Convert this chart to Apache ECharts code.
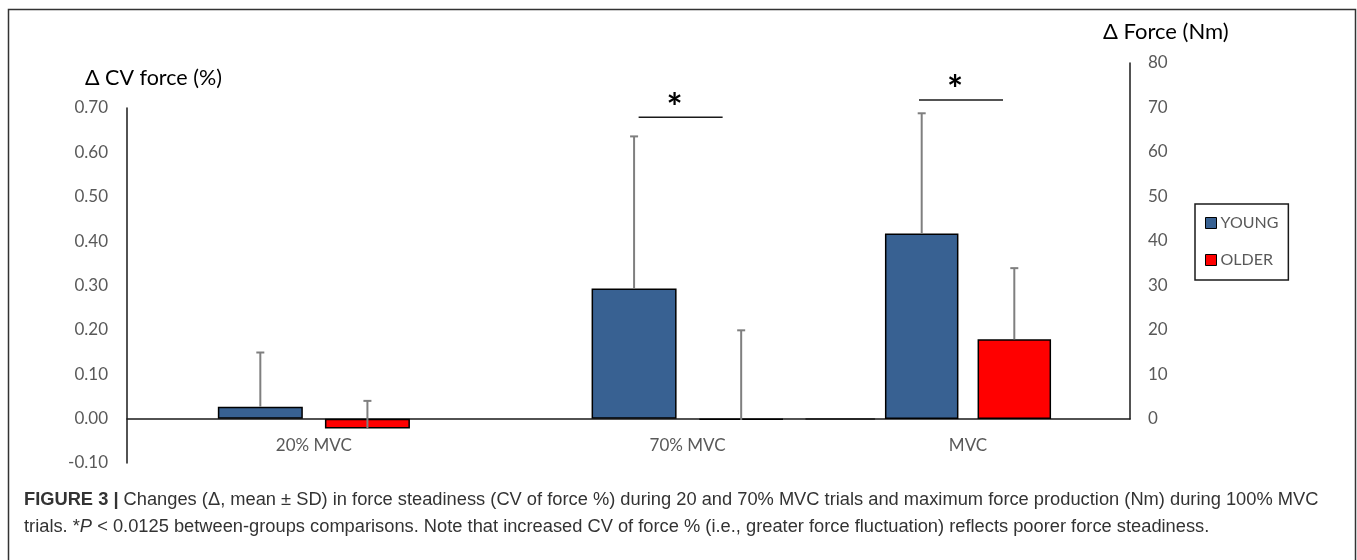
<!DOCTYPE html>
<html>
<head>
<meta charset="utf-8">
<script src="https://cdn.jsdelivr.net/npm/echarts@6/dist/echarts.min.js"></script>
<style>
html,body{margin:0;padding:0;background:#fff;}
#chart{width:1357px;height:560px;}
</style>
</head>
<body>
<div id="chart"></div>
<script>
// ---------- data ----------
const categoriesCV = ['20% MVC', '70% MVC'];        // left axis (Δ CV force %)
const youngCV      = [0.027, 0.293];
const youngCVTop   = [0.149, 0.636];                // mean + SD
const olderCV      = [-0.022, -0.003];
const olderCVTop   = [0.040, 0.199];

const categoriesForce = ['MVC'];                    // right axis (Δ Force Nm)
const youngForce      = [41.7];
const youngForceTop   = [68.7];
const olderForce      = [17.9];
const olderForceTop   = [33.9];

const leftAxisRange  = {min: -0.1, max: 0.7, interval: 0.1};
const rightAxisRange = {min: 0, max: 80, interval: 10};

const significance = [
  {grid: 0, cat: '70% MVC', value: 0.679},
  {grid: 1, cat: 'MVC', value: 71.7}
];

const seriesNames = ['YOUNG', 'OLDER'];
const leftTitle = 'Δ CV force (%)';
const rightTitle = 'Δ Force (Nm)';
const captionLine1 = '{b|FIGURE 3 |}{n| Changes (Δ, mean ± SD) in force steadiness (CV of force %) during 20 and 70% MVC trials and maximum force production (Nm) during 100% MVC}';
const captionLine2 = '{n|trials. *}{i|P}{n| < 0.0125 between-groups comparisons. Note that increased CV of force % (i.e., greater force fluctuation) reflects poorer force steadiness.}';

// ---------- style ----------
const BLUE = '#386192', RED = '#ff0000';
const LABEL = '#595959';
const FONT = 'Lato';
const bw1 = 85, bw2 = 73.5, gapRatio = 0.26;

function errRender(offsetPx) {
  return function (params, api) {
    const base = api.coord([api.value(0), api.value(1)]);
    const top = api.coord([api.value(0), api.value(2)]);
    const x = base[0] + offsetPx;
    const cap = 4;
    return {
      type: 'group',
      children: [
        {type: 'line', shape: {x1: x, y1: base[1], x2: x, y2: top[1]},
         style: {stroke: '#7f7f7f', lineWidth: 2}},
        {type: 'line', shape: {x1: x - cap, y1: top[1], x2: x + cap, y2: top[1]},
         style: {stroke: '#7f7f7f', lineWidth: 2}}
      ]
    };
  };
}

function errData(means, tops) {
  return means.map((m, i) => [i, m, tops[i]]);
}

const axisLineStyle = {show: true, onZero: false, lineStyle: {color: '#1a1a1a', width: 1.5}};
const labelStyle = {color: LABEL, fontFamily: FONT, fontSize: 17};

const chart = echarts.init(document.getElementById('chart'), null, {renderer: 'canvas'});

const off1 = bw1 * (1 + gapRatio) / 2;
const off2 = bw2 * (1 + gapRatio) / 2;

const option = {
  animation: false,
  backgroundColor: '#fff',
  grid: [
    {left: 127, right: 1357 - 874.5, top: 108, bottom: 560 - 463, containLabel: false},
    {left: 806, right: 1357 - 1130, top: 63, bottom: 560 - 419, containLabel: false}
  ],
  xAxis: [
    {type: 'category', gridIndex: 0, data: categoriesCV, position: 'bottom', offset: -44.4,
     axisLine: axisLineStyle, axisTick: {show: false},
     axisLabel: Object.assign({margin: 18}, labelStyle), splitLine: {show: false}},
    {type: 'category', gridIndex: 1, data: categoriesForce, position: 'bottom',
     axisLine: axisLineStyle, axisTick: {show: false},
     axisLabel: Object.assign({margin: 18}, labelStyle), splitLine: {show: false}}
  ],
  yAxis: [
    {type: 'value', gridIndex: 0, position: 'left',
     min: leftAxisRange.min, max: leftAxisRange.max, interval: leftAxisRange.interval,
     axisLine: axisLineStyle, axisTick: {show: false}, splitLine: {show: false},
     axisLabel: Object.assign({margin: 19, formatter: v => v.toFixed(2)}, labelStyle)},
    {type: 'value', gridIndex: 1, position: 'right',
     min: rightAxisRange.min, max: rightAxisRange.max, interval: rightAxisRange.interval,
     axisLine: axisLineStyle, axisTick: {show: false}, splitLine: {show: false},
     axisLabel: Object.assign({margin: 18}, labelStyle)}
  ],
  legend: {
    data: seriesNames,
    orient: 'vertical',
    left: 1195, top: 204,
    borderColor: '#1a1a1a', borderWidth: 1.5,
    padding: [11, 10, 12, 10],
    itemWidth: 11, itemHeight: 11, itemGap: 21,
    icon: 'rect',
    textStyle: {color: LABEL, fontFamily: FONT, fontSize: 16, padding: [0, 0, 0, -1]},
    itemStyle: {borderColor: '#000', borderWidth: 1}
  },
  series: [
    {name: 'YOUNG', type: 'bar', xAxisIndex: 0, yAxisIndex: 0, data: youngCV,
     barWidth: bw1, barGap: (gapRatio * 100) + '%',
     itemStyle: {color: BLUE, borderColor: '#000', borderWidth: 1.5}},
    {name: 'OLDER', type: 'bar', xAxisIndex: 0, yAxisIndex: 0, data: olderCV,
     barWidth: bw1, barGap: (gapRatio * 100) + '%',
     itemStyle: {color: RED, borderColor: '#000', borderWidth: 1.5}},
    {name: 'YOUNG', type: 'bar', xAxisIndex: 1, yAxisIndex: 1, data: youngForce,
     barWidth: bw2, barGap: (gapRatio * 100) + '%',
     itemStyle: {color: BLUE, borderColor: '#000', borderWidth: 1.5}},
    {name: 'OLDER', type: 'bar', xAxisIndex: 1, yAxisIndex: 1, data: olderForce,
     barWidth: bw2, barGap: (gapRatio * 100) + '%',
     itemStyle: {color: RED, borderColor: '#000', borderWidth: 1.5}},
    {type: 'custom', xAxisIndex: 0, yAxisIndex: 0, z: 5, renderItem: errRender(-off1),
     data: errData(youngCV, youngCVTop), silent: true},
    {type: 'custom', xAxisIndex: 0, yAxisIndex: 0, z: 5, renderItem: errRender(off1),
     data: errData(olderCV, olderCVTop), silent: true},
    {type: 'custom', xAxisIndex: 1, yAxisIndex: 1, z: 5, renderItem: errRender(-off2),
     data: errData(youngForce, youngForceTop), silent: true},
    {type: 'custom', xAxisIndex: 1, yAxisIndex: 1, z: 5, renderItem: errRender(off2),
     data: errData(olderForce, olderForceTop), silent: true}
  ]
};

chart.setOption(option);

// ---------- annotations: titles, significance, caption, frame ----------
const graphics = [];
graphics.push({type: 'rect', shape: {x: 8.5, y: 9.5, width: 1347, height: 620},
  style: {fill: 'none', stroke: '#333', lineWidth: 1.5}, silent: true});
graphics.push({type: 'text', left: 85, top: 67,
  style: {text: leftTitle, fill: '#000', font: '21.5px ' + FONT}});
graphics.push({type: 'text', left: 1103, top: 21,
  style: {text: rightTitle, fill: '#000', font: '22px ' + FONT}});

significance.forEach(s => {
  const p = chart.convertToPixel({xAxisIndex: s.grid, yAxisIndex: s.grid}, [s.cat, s.value]);
  const cx = p[0] - 7;
  graphics.push({type: 'line', shape: {x1: cx - 42, y1: p[1], x2: cx + 42, y2: p[1]},
    style: {stroke: '#1a1a1a', lineWidth: 1.5}, silent: true});
  graphics.push({type: 'text', x: cx - 6, y: p[1] - 9,
    style: {text: '*', fill: '#000', font: 'bold 38px ' + FONT, align: 'center', verticalAlign: 'middle'}});
});

const capRich = {
  b: {font: 'bold 18.3px "Liberation Sans"', fill: '#333'},
  n: {font: '18.3px "Liberation Sans"', fill: '#333'},
  i: {font: 'italic 18.3px "Liberation Sans"', fill: '#333'}
};
graphics.push({type: 'text', left: 24, top: 491, style: {rich: capRich, text: captionLine1}});
graphics.push({type: 'text', left: 24, top: 518, style: {rich: capRich, text: captionLine2}});

chart.setOption({graphic: graphics});
</script>
</body>
</html>
